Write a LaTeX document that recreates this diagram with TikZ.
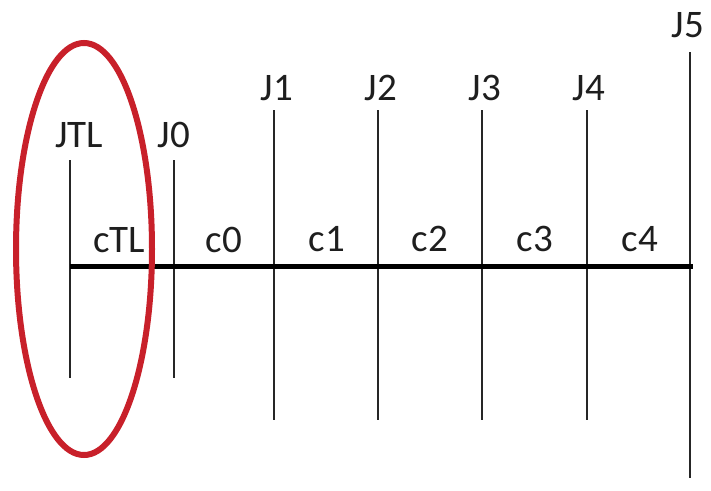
\documentclass[tikz,border=0pt]{standalone}
\usepackage{fontspec}
\setmainfont{Carlito}
\definecolor{txt}{HTML}{1E1E1E}
\definecolor{ring}{HTML}{C8202A}
\begin{document}
\begin{tikzpicture}[x=1pt,y=-1pt,
  lbl/.style={inner sep=0pt, anchor=base, text=txt, font=\fontsize{39}{41}\selectfont},
  jline/.style={line width=1.8pt, draw=black!85},
  bus/.style={line width=5pt, draw=black}]
\useasboundingbox[fill=white] (0,0) rectangle (711,490);
% joint line ends
\coordinate (tTL) at (70,160); \coordinate (bTL) at (70,378);
\coordinate (t0) at (174,160); \coordinate (b0) at (174,378);
\coordinate (t1) at (274,110); \coordinate (b1) at (274,420);
\coordinate (t2) at (378,110); \coordinate (b2) at (378,420);
\coordinate (t3) at (482,110); \coordinate (b3) at (482,420);
\coordinate (t4) at (587,110); \coordinate (b4) at (587,420);
\coordinate (t5) at (690,52);  \coordinate (b5) at (690,478);
\coordinate (busL) at (70,266); \coordinate (busR) at (693,266);
% lines
\foreach \i in {TL,0,1,2,3,4,5} \draw[jline] (t\i) -- (b\i);
\draw[bus] (busL) -- (busR);
% joint labels
\node[lbl] (lJTL) at (79,147) {JTL};
\node[lbl] (lJ0) at (174,147) {J0};
\node[lbl] (lJ1) at (277,100) {J1};
\node[lbl] (lJ2) at (381,100) {J2};
\node[lbl] (lJ3) at (485,100) {J3};
\node[lbl] (lJ4) at (589,100) {J4};
\node[lbl] (lJ5) at (688,37) {J5};
% link labels
\node[lbl] (lcTL) at (119,252) {cTL};
\node[lbl] (lc0) at (224,252) {c0};
\node[lbl] (lc1) at (327,251) {c1};
\node[lbl] (lc2) at (430,251) {c2};
\node[lbl] (lc3) at (535,251) {c3};
\node[lbl] (lc4) at (640,251) {c4};
% highlight ellipse
\draw[ring, line width=6pt] (84,249) ellipse [x radius=68, y radius=206];
\end{tikzpicture}
\end{document}
